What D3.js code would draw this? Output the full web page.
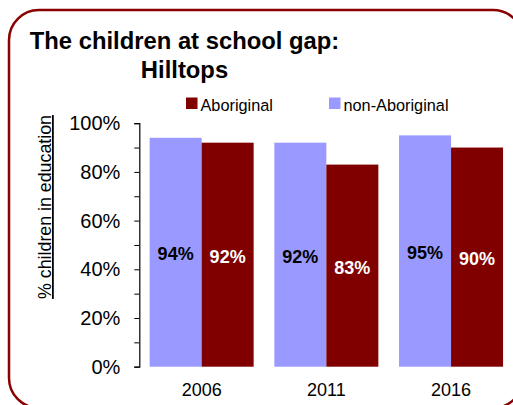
<!DOCTYPE html>
<html lang="en">
<head>
<meta charset="UTF-8">
<title>The children at school gap: Hilltops</title>
<script src="https://cdn.jsdelivr.net/npm/d3@7"></script>
<style>
    body { margin: 0; background: #fff; }
    text { font-family: "Liberation Sans", Arial, sans-serif; fill: #000; }
    .title { font-size: 23.8px; font-weight: bold; }
    .tick-label { font-size: 20px; }
    .cat-label { font-size: 18px; }
    .legend text { font-size: 16.3px; }
    .val { font-size: 18px; font-weight: bold; }
</style>
</head>
<body>
<svg width="513" height="405"></svg>
<script>
    var years = ["2006", "2011", "2016"];
    var seriesNames = ["non-Aboriginal", "Aboriginal"];
    var nonAboriginal = [94, 92, 95];
    var aboriginal = [92, 83, 90];
    var yTicks = [0, 20, 40, 60, 80, 100];
    var legendOrder = ["Aboriginal", "non-Aboriginal"];

    var colors = { "non-Aboriginal": "#9999ff", "Aboriginal": "#800000" };
    var labelColors = { "non-Aboriginal": "#000", "Aboriginal": "#fff" };

    var svg = d3.select("svg");

    // rounded border, runs off the right and bottom edge
    svg.append("rect")
        .attr("x", 9).attr("y", 10)
        .attr("width", 514).attr("height", 398)
        .attr("rx", 30).attr("ry", 30)
        .attr("fill", "none")
        .attr("stroke", "#8b0000")
        .attr("stroke-width", 2.5);

    svg.append("text").attr("class", "title")
        .attr("x", 184.5).attr("y", 49)
        .attr("text-anchor", "middle")
        .text("The children at school gap:");
    svg.append("text").attr("class", "title")
        .attr("x", 184.5).attr("y", 77.5)
        .attr("text-anchor", "middle")
        .text("Hilltops");

    var x0 = d3.scaleBand().domain(years).range([139.3, 513.4])
        .paddingInner(0.166).paddingOuter(0.083);
    var x1 = d3.scaleBand().domain(seriesNames).range([0, x0.bandwidth()]);
    var y = d3.scaleLinear().domain([0, 100]).range([366.7, 123.2]);

    // y axis
    var yAxis = d3.axisLeft(y).tickValues(yTicks)
        .tickFormat(function(d) { return d + "%"; })
        .tickSize(5).tickPadding(14);
    var gy = svg.append("g").attr("transform", "translate(139.3,0)").call(yAxis);
    gy.select(".domain").attr("stroke", "#000").attr("stroke-width", 1.2);
    gy.selectAll(".tick line").attr("stroke", "#000");
    gy.selectAll(".tick text").attr("class", "tick-label")
        .attr("font-family", null).attr("font-size", null).attr("fill", "#000");

    var minor = d3.axisLeft(y).tickValues([10, 30, 50, 70, 90]).tickSize(5).tickFormat("");
    var gm = svg.append("g").attr("transform", "translate(139.3,0)").call(minor);
    gm.select(".domain").remove();
    gm.selectAll(".tick line").attr("stroke", "#000");

    // axis title
    svg.append("text")
        .attr("transform", "translate(51,207) rotate(-90)")
        .attr("text-anchor", "middle")
        .style("font-size", "17.8px")
        .style("text-decoration", "underline")
        .text("% children in education");

    var rows = years.map(function(yr, i) {
        return { year: yr, values: [
            { name: "non-Aboriginal", value: nonAboriginal[i] },
            { name: "Aboriginal", value: aboriginal[i] }
        ] };
    });

    var groups = svg.append("g").selectAll("g").data(rows).enter().append("g")
        .attr("transform", function(d) { return "translate(" + x0(d.year) + ",0)"; });

    groups.selectAll("rect").data(function(d) { return d.values; }).enter().append("rect")
        .attr("x", function(d) { return x1(d.name); })
        .attr("y", function(d) { return y(d.value); })
        .attr("width", x1.bandwidth())
        .attr("height", function(d) { return y(0) - y(d.value); })
        .attr("fill", function(d) { return colors[d.name]; });

    groups.selectAll("text.val").data(function(d) { return d.values; }).enter().append("text")
        .attr("class", "val")
        .attr("x", function(d) { return x1(d.name) + x1.bandwidth() / 2; })
        .attr("y", function(d) { return (y(d.value) + y(0)) / 2; })
        .attr("dy", "0.45em")
        .attr("text-anchor", "middle")
        .style("fill", function(d) { return labelColors[d.name]; })
        .text(function(d) { return d.value + "%"; });

    // category labels
    svg.append("g").selectAll("text").data(years).enter().append("text")
        .attr("class", "cat-label")
        .attr("x", function(d) { return x0(d) + x0.bandwidth() / 2; })
        .attr("y", 396)
        .attr("text-anchor", "middle")
        .text(function(d) { return d; });

    // legend
    var legendX = { "Aboriginal": 186, "non-Aboriginal": 329 };
    var legend = svg.append("g").attr("class", "legend")
        .selectAll("g").data(legendOrder).enter().append("g")
        .attr("transform", function(d) { return "translate(" + legendX[d] + ",97.5)"; });
    legend.append("rect").attr("width", 11.5).attr("height", 11.5)
        .attr("fill", function(d) { return colors[d]; });
    legend.append("text").attr("x", 14.5).attr("y", 13.5)
        .text(function(d) { return d; });
</script>
</body>
</html>
